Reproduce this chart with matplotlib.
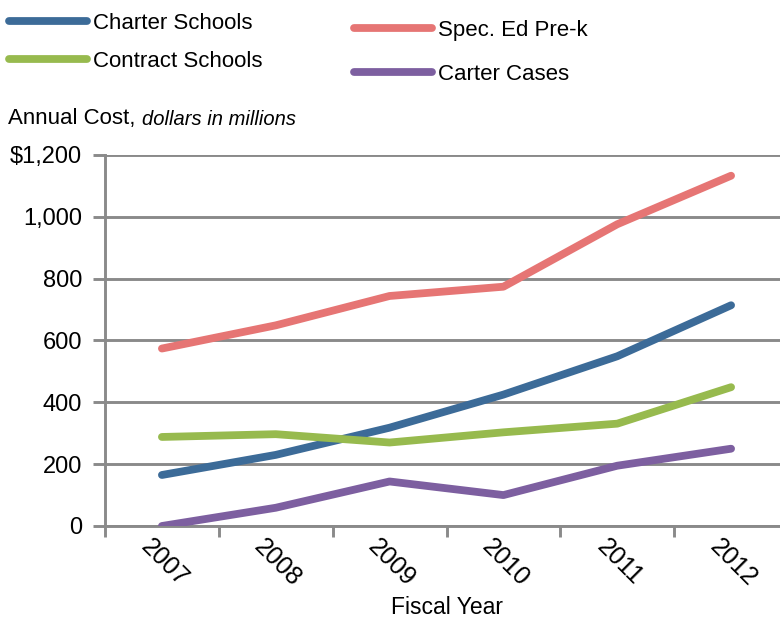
import matplotlib
matplotlib.use('Agg')

from matplotlib import pyplot as plt
from matplotlib import transforms
import numpy as np

years = ['2007', '2008', '2009', '2010', '2011', '2012']
charter = [165, 230, 318, 425, 549, 714]
sped_prek = [574, 649, 744, 774, 976, 1133]
contract = [288, 297, 270, 303, 331, 449]
carter = [0, 59, 144, 100, 195, 250]
yticks = [0, 200, 400, 600, 800, 1000, 1200]
ytick_labels = ['0', '200', '400', '600', '800', '1,000', '$1,200']

narrow = ['Liberation Sans Narrow', 'Liberation Sans', 'DejaVu Sans']
regular = ['Liberation Sans', 'DejaVu Sans']
grey = '#8a8a8a'

fig = plt.figure(figsize=(7.8, 6.19), dpi=100)
ax = fig.add_axes([105 / 780, 93 / 619, 683 / 780, 371 / 619])

x = np.arange(len(years))
lw = 5.6
style = dict(lw=lw, solid_capstyle='round', solid_joinstyle='round', zorder=3)
l_charter, = ax.plot(x, charter, color='#3C6B98', **style)
l_sped, = ax.plot(x, sped_prek, color='#E67574', **style)
l_contract, = ax.plot(x, contract, color='#97BA4E', **style)
l_carter, = ax.plot(x, carter, color='#7D5FA0', **style)

ax.set_xlim(-0.5, len(years) - 0.5)
ax.set_ylim(0, 1200)
ax.set_yticks(yticks)
ax.set_yticklabels(ytick_labels, family=regular, fontsize=17)
ax.yaxis.grid(True, color=grey, lw=2.1)
ax.set_axisbelow(True)
ax.tick_params(axis='y', length=8.5, width=2.1, color=grey, pad=8)

# categories sit between tick marks
ax.set_xticks(x)
ax.set_xticks(np.arange(-0.5, len(years)), minor=True)
ax.tick_params(axis='x', which='major', length=0, pad=6)
ax.tick_params(axis='x', which='minor', length=8, width=2.1, color=grey)
ax.set_xticklabels(years, rotation=-45, ha='center', family=narrow, fontsize=18)
offset = transforms.ScaledTranslation(2 / 100, 0, fig.dpi_scale_trans)
for lab in ax.get_xticklabels():
    lab.set_transform(lab.get_transform() + offset)

for s in ['top', 'right']:
    ax.spines[s].set_visible(False)
for s in ['left', 'bottom']:
    ax.spines[s].set_color(grey)
    ax.spines[s].set_linewidth(2.1)
ax.spines['left'].set_bounds(0, 1200)

ax.set_xlabel('Fiscal Year', family=narrow, fontsize=16.5)
ax.xaxis.set_label_coords((447 - 105) / 683, -0.19)

t1 = fig.text(8 / 780, 1 - 124 / 619, 'Annual Cost, ', family=narrow, fontsize=16)
fig.canvas.draw()
ax.annotate('dollars in millions', xy=(1, 0), xycoords=t1, va='bottom', ha='left',
            family=narrow, style='italic', fontsize=14.5, annotation_clip=False)

leg1 = fig.legend([l_charter, l_contract], ['Charter Schools', 'Contract Schools'],
                  loc='upper left', bbox_to_anchor=(0 / 780, 1 - 4 / 619),
                  frameon=False, handlelength=3.5, handletextpad=0.3, labelspacing=0.75,
                  prop={'family': narrow, 'size': 16}, borderaxespad=0)
leg2 = fig.legend([l_sped, l_carter], ['Spec. Ed Pre-k', 'Carter Cases'],
                  loc='upper left', bbox_to_anchor=(345 / 780, 1 - 11 / 619),
                  frameon=False, handlelength=3.5, handletextpad=0.3, labelspacing=1.05,
                  prop={'family': narrow, 'size': 16}, borderaxespad=0)

plt.savefig('out.png', dpi=100)
plt.close()
